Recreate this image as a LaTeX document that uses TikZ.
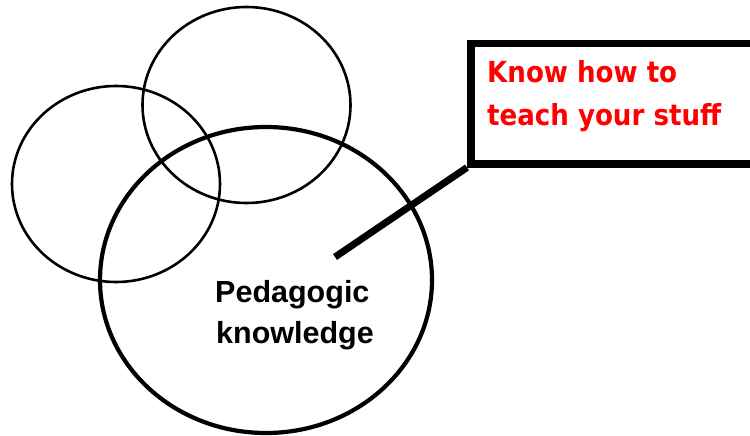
\documentclass[tikz,border=0pt]{standalone}
\usepackage{fontspec}
\setmainfont{Liberation Sans}
\newfontfamily\redfont{DejaVu Sans Condensed}
\usetikzlibrary{shapes.geometric}
\begin{document}
\begin{tikzpicture}[x=1pt,y=-1pt,
  smallring/.style={draw,ellipse,inner sep=0pt,line width=2.6pt,minimum width=208pt,minimum height=196pt},
  bigring/.style={draw,ellipse,inner sep=0pt,line width=4.2pt,minimum width=332pt,minimum height=306pt},
  callbox/.style={draw,rectangle,line width=7.5pt,inner sep=0pt,minimum width=320pt,minimum height=120pt,anchor=north west},
  pointer/.style={line width=7pt},
  calltext/.style={anchor=base west,inner sep=0pt,text=red,font=\redfont\bfseries\fontsize{29}{42}\selectfont},
  circtext/.style={anchor=base west,inner sep=0pt,font=\bfseries\fontsize{30.5}{41}\selectfont}]
\useasboundingbox (0,0) rectangle (750,436);
\node[smallring] (left) at (116,184) {};
\node[smallring] (top) at (246.5,105) {};
\node[bigring] (big) at (266,280) {};
\node[callbox] (box) at (467,40) {};
\coordinate (tip) at (335,257);
\draw[pointer] (box.south west) -- (tip);
\node[calltext] (t1) at (487,83) {Know how to};
\node[calltext] (t2) at (487,125) {teach your stuff};
\node[circtext] (p1) at (215,302) {Pedagogic};
\node[circtext] (p2) at (216,343) {knowledge};
\end{tikzpicture}
\end{document}
